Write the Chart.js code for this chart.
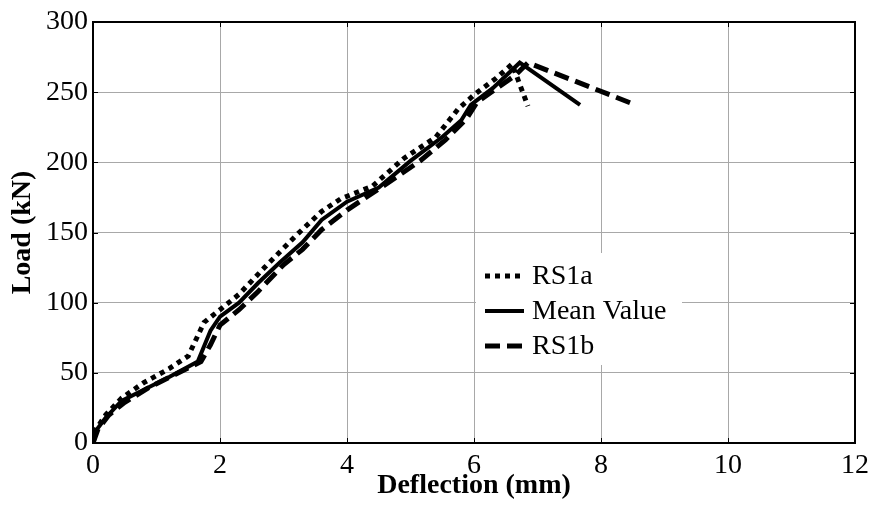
<!DOCTYPE html>
<html>
<head>
<meta charset="utf-8">
<script src="https://cdn.jsdelivr.net/npm/chart.js@4.4.1/dist/chart.umd.min.js"></script>
<style>
  html, body { margin: 0; padding: 0; background: #fff; }
  #wrap { width: 871px; height: 506px; }
</style>
</head>
<body>
<div id="wrap"><canvas id="c" width="871" height="506"></canvas></div>
<script>
// ---- Data ----
const rs1aX = [0, 0.05, 0.2, 0.45, 0.8, 1.2, 1.5, 1.75, 2.0, 2.3, 2.7, 3.2, 3.6, 3.9, 4.4, 4.9, 5.4, 5.75, 6.0, 6.35, 6.6, 6.85];
const rs1aY = [0, 10, 20, 32, 43, 53, 62, 86, 95, 106, 125, 148, 165, 174, 183, 203, 218, 238, 248, 260, 270, 240];

const meanX = [0, 0.05, 0.2, 0.45, 0.8, 1.2, 1.65, 1.85, 2.0, 2.3, 2.6, 2.95, 3.3, 3.6, 4.0, 4.5, 5.0, 5.5, 5.8, 5.95, 6.3, 6.72, 7.67];
const meanY = [0, 9, 18, 30, 38, 47, 58, 80, 90, 100, 114, 129, 143, 159, 172, 182, 201, 218, 230, 241, 253, 271, 241];

const rs1bX = [0, 0.08, 0.25, 0.5, 0.9, 1.3, 1.7, 1.85, 2.0, 2.3, 2.6, 3.0, 3.3, 3.6, 4.0, 4.5, 5.15, 5.55, 5.88, 6.05, 6.4, 6.65, 6.85, 8.54];
const rs1bY = [0, 10, 20, 29, 40, 49, 58, 70, 84, 95, 108, 127, 138, 152, 166, 181, 201, 216, 231, 243, 254, 262, 271, 241];

const seriesLabels = ['RS1a', 'Mean Value', 'RS1b'];
const xTicks = [0, 2, 4, 6, 8, 10, 12];
const yTicks = [0, 50, 100, 150, 200, 250, 300];
const xTitle = 'Deflection (mm)';
const yTitle = 'Load (kN)';

function pts(xs, ys) { return xs.map((x, i) => ({ x: x, y: ys[i] })); }

const FONT = '"Liberation Serif", "Times New Roman", serif';

// Frame, inward ticks and in-plot legend
const framePlugin = {
  id: 'frame',
  afterDatasetsDraw(chart) {
    const ctx = chart.ctx;
    const a = chart.chartArea;
    const xs = chart.scales.x, ys = chart.scales.y;
    ctx.save();
    ctx.strokeStyle = '#000';
    ctx.lineWidth = 1;
    const tl = 5;
    xTicks.forEach(v => {
      const px = Math.round(xs.getPixelForValue(v)) + 0.5;
      ctx.beginPath();
      ctx.moveTo(px, a.bottom); ctx.lineTo(px, a.bottom - tl);
      ctx.moveTo(px, a.top); ctx.lineTo(px, a.top + tl);
      ctx.stroke();
    });
    yTicks.forEach(v => {
      const py = Math.round(ys.getPixelForValue(v)) + 0.5;
      ctx.beginPath();
      ctx.moveTo(a.left, py); ctx.lineTo(a.left + tl, py);
      ctx.moveTo(a.right, py); ctx.lineTo(a.right - tl, py);
      ctx.stroke();
    });
    ctx.lineWidth = 2;
    ctx.strokeRect(a.left, a.top, a.right - a.left, a.bottom - a.top);

    // legend
    const bx = xs.getPixelForValue(6) + 2;
    const bw = 206;
    const by = 253;
    const bh = 112;
    ctx.fillStyle = '#fff';
    ctx.fillRect(bx, by, bw, bh);
    ctx.font = '28px ' + FONT;
    ctx.textBaseline = 'middle';
    ctx.textAlign = 'left';
    chart.data.datasets.forEach((ds, i) => {
      const cy = by + 23 + i * 35;
      ctx.save();
      ctx.strokeStyle = '#000';
      ctx.lineWidth = ds.borderWidth;
      ctx.setLineDash(ds.borderDash || []);
      ctx.lineCap = 'butt';
      ctx.beginPath();
      ctx.moveTo(bx + 9, cy);
      ctx.lineTo(bx + 48, cy);
      ctx.stroke();
      ctx.restore();
      ctx.fillStyle = '#000';
      ctx.fillText(ds.label, bx + 56, cy + 1);
    });
    ctx.restore();
  }
};

const gridStyle = {
  color: '#a8a8a8',
  lineWidth: 1,
  drawTicks: false
};

new Chart(document.getElementById('c'), {
  type: 'scatter',
  data: {
    datasets: [
      { label: seriesLabels[0], data: pts(rs1aX, rs1aY), showLine: true, borderColor: '#000', borderWidth: 5, borderDash: [5, 5], pointRadius: 0, fill: false, tension: 0 },
      { label: seriesLabels[1], data: pts(meanX, meanY), showLine: true, borderColor: '#000', borderWidth: 4, borderDash: [], pointRadius: 0, fill: false, tension: 0 },
      { label: seriesLabels[2], data: pts(rs1bX, rs1bY), showLine: true, borderColor: '#000', borderWidth: 5, borderDash: [15, 7], pointRadius: 0, fill: false, tension: 0 }
    ]
  },
  options: {
    responsive: false,
    animation: false,
    devicePixelRatio: 1,
    layout: { padding: { top: 22, right: 16, left: 0, bottom: 0 } },
    plugins: { legend: { display: false }, tooltip: { enabled: false } },
    scales: {
      x: {
        type: 'linear', min: 0, max: 12,
        afterBuildTicks: s => { s.ticks = xTicks.map(v => ({ value: v })); },
        afterFit: s => { s.height = 63; s.paddingRight = 0; s.paddingLeft = 0; },
        grid: Object.assign({}, gridStyle),
        border: { display: false },
        ticks: { color: '#000', font: { family: FONT, size: 28 }, padding: 6, maxRotation: 0 },
        title: { display: true, text: xTitle, color: '#000', font: { family: FONT, size: 28, weight: 'bold' }, padding: { top: 0, bottom: 3 } }
      },
      y: {
        type: 'linear', min: 0, max: 300,
        afterBuildTicks: s => { s.ticks = yTicks.map(v => ({ value: v })); },
        afterFit: s => { s.width = 93; s.paddingTop = 0; s.paddingBottom = 0; },
        grid: Object.assign({}, gridStyle),
        border: { display: false },
        ticks: { color: '#000', font: { family: FONT, size: 28 }, padding: 5 },
        title: { display: true, text: yTitle, color: '#000', font: { family: FONT, size: 28, weight: 'bold' }, padding: { top: 6, bottom: 0 } }
      }
    }
  },
  plugins: [framePlugin]
});
</script>
</body>
</html>
